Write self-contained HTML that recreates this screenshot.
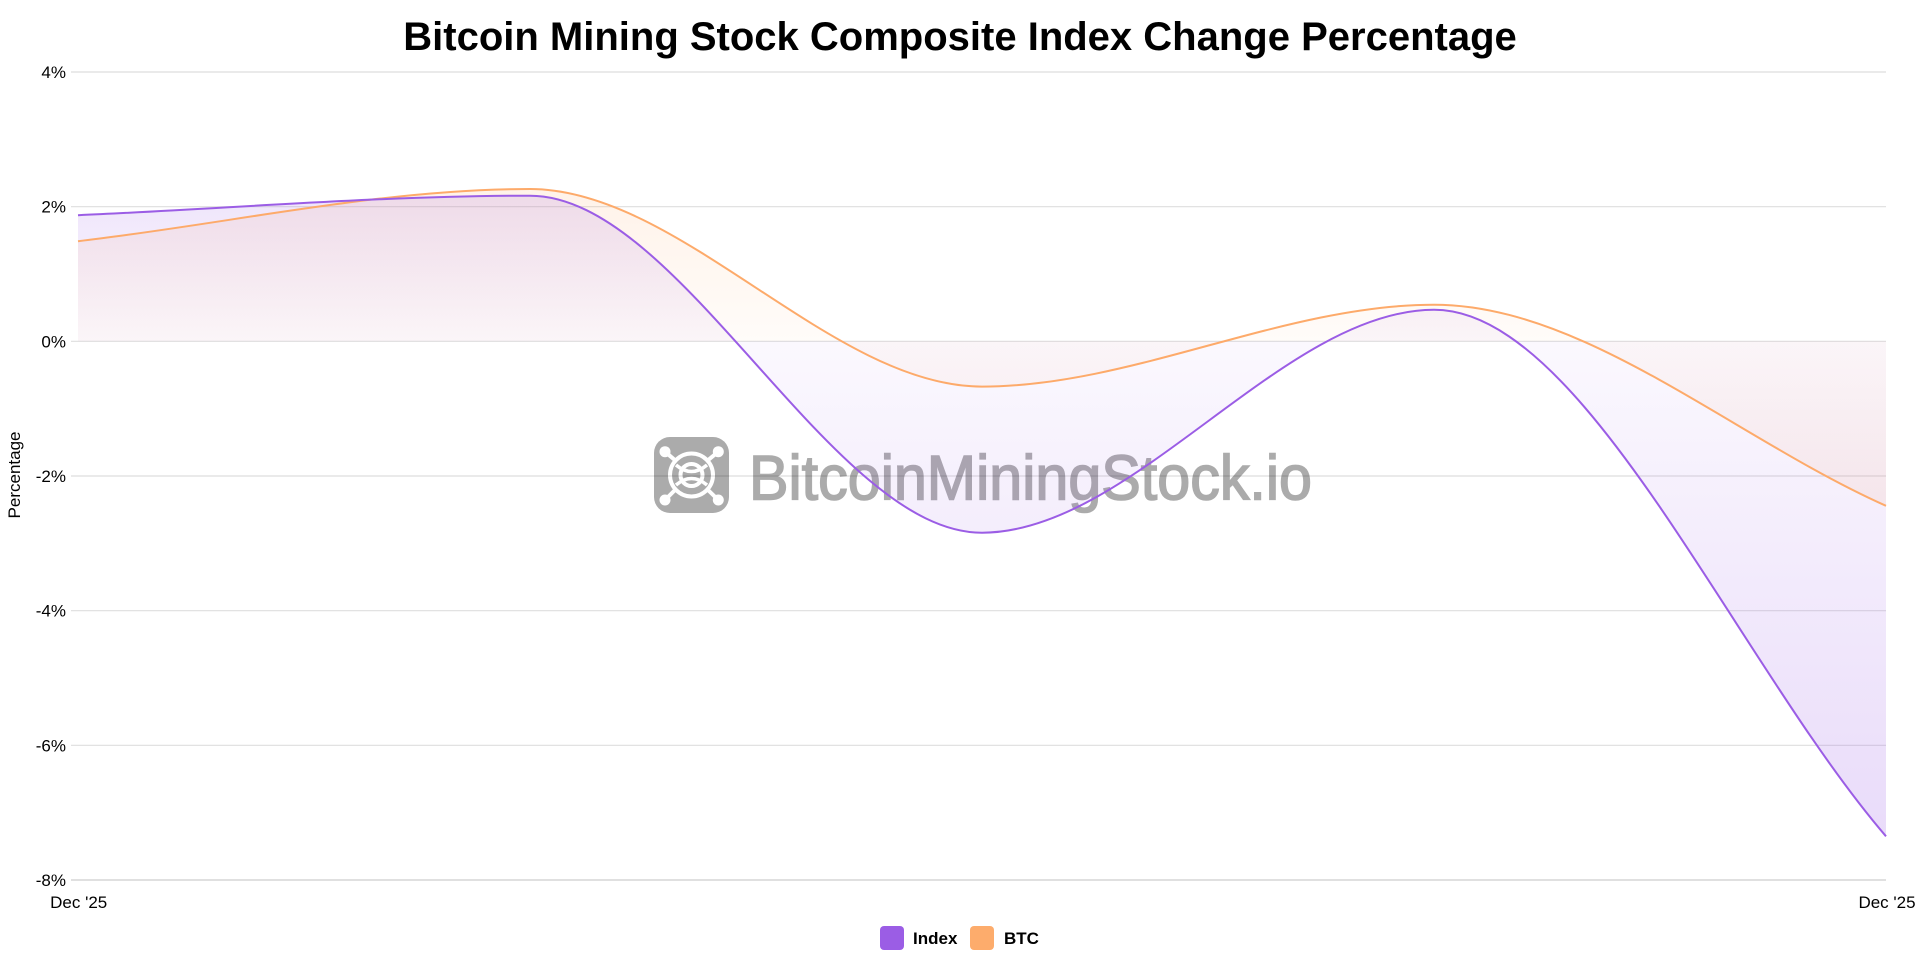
<!DOCTYPE html>
<html>
<head>
<meta charset="utf-8">
<style>
  html, body { margin: 0; padding: 0; background: #ffffff; }
  body { width: 1920px; height: 960px; overflow: hidden; }
  svg { display: block; }
  text { font-family: "Liberation Sans", Arial, sans-serif; }
</style>
</head>
<body>
<svg width="1920" height="960" viewBox="0 0 1920 960" xmlns="http://www.w3.org/2000/svg">
  <defs>
    <linearGradient id="gIdx" gradientUnits="userSpaceOnUse" x1="0" y1="195.7" x2="0" y2="836.3">
      <stop offset="0" stop-color="#9b5de5" stop-opacity="0.16"/>
      <stop offset="0.227" stop-color="#9b5de5" stop-opacity="0.04"/>
      <stop offset="1" stop-color="#9b5de5" stop-opacity="0.22"/>
    </linearGradient>
    <linearGradient id="gBtc" gradientUnits="userSpaceOnUse" x1="0" y1="189" x2="0" y2="505.8">
      <stop offset="0" stop-color="#fdac6c" stop-opacity="0.15"/>
      <stop offset="0.481" stop-color="#fdac6c" stop-opacity="0.04"/>
      <stop offset="1" stop-color="#fdac6c" stop-opacity="0.13"/>
    </linearGradient>
  </defs>

  <!-- Title -->
  <text x="960" y="50" text-anchor="middle" font-size="40" font-weight="bold" fill="#000">Bitcoin Mining Stock Composite Index Change Percentage</text>

  <!-- Watermark -->
  <g>
    <rect x="654" y="437" width="75" height="76" rx="16" ry="16" fill="#ababab"/>
    <g stroke="#ffffff" fill="none" stroke-width="4">
      <circle cx="691.5" cy="475" r="21.5"/>
      <circle cx="691.5" cy="475" r="11"/>
      <line x1="665" y1="451.7" x2="676" y2="461"/>
      <line x1="718.3" y1="451.7" x2="707" y2="461"/>
      <line x1="665" y1="500" x2="676" y2="489"/>
      <line x1="718.3" y1="500" x2="707" y2="489"/>
      <path d="M676 465 Q691.5 478 707 465" stroke-width="3.5"/>
      <path d="M676 485 Q691.5 472 707 485" stroke-width="3.5"/>
    </g>
    <g fill="#ffffff">
      <circle cx="665" cy="451.7" r="5.5"/>
      <circle cx="718.3" cy="451.7" r="5.5"/>
      <circle cx="665" cy="500" r="5.5"/>
      <circle cx="718.3" cy="500" r="5.5"/>
    </g>
    <text x="749" y="499.3" font-size="63" fill="#ababab" stroke="#ababab" stroke-width="1.6" textLength="563" lengthAdjust="spacingAndGlyphs">BitcoinMiningStock.io</text>
  </g>

  <!-- Gridlines -->
  <g stroke="rgba(0,0,0,0.13)" stroke-width="1.2">
    <line x1="71" y1="72" x2="1886" y2="72"/>
    <line x1="71" y1="206.7" x2="1886" y2="206.7"/>
    <line x1="71" y1="341.3" x2="1886" y2="341.3"/>
    <line x1="71" y1="476" x2="1886" y2="476"/>
    <line x1="71" y1="610.7" x2="1886" y2="610.7"/>
    <line x1="71" y1="745.3" x2="1886" y2="745.3"/>
    <line x1="71" y1="880" x2="1886" y2="880" stroke="rgba(0,0,0,0.2)"/>
  </g>

  <!-- Y tick labels -->
  <g font-size="17" fill="#000" text-anchor="end">
    <text x="66" y="78">4%</text>
    <text x="66" y="212.7">2%</text>
    <text x="66" y="347.3">0%</text>
    <text x="66" y="482">-2%</text>
    <text x="66" y="616.7">-4%</text>
    <text x="66" y="751.3">-6%</text>
    <text x="66" y="886">-8%</text>
  </g>

  <!-- Y axis title -->
  <text transform="translate(20,475) rotate(-90)" text-anchor="middle" font-size="17" fill="#000">Percentage</text>

  <!-- X tick labels -->
  <g font-size="17" fill="#000" text-anchor="middle">
    <text x="78.7" y="908">Dec '25</text>
    <text x="1887" y="908">Dec '25</text>
  </g>

  <!-- Areas -->
  <path fill="url(#gBtc)" d="M78,241.2 C228.67,223.8 379.33,189 530,189 C680.67,189 831.33,386.6 982,386.6 C1132.67,386.6 1283.33,304.7 1434,304.7 C1584.67,304.7 1735.33,438.8 1886,505.8 L1886,341.3 L78,341.3 Z"/>
  <path fill="url(#gIdx)" d="M78,215.2 C228.67,208.7 379.33,195.7 530,195.7 C680.67,195.7 831.33,532.7 982,532.7 C1132.67,532.7 1283.33,309.8 1434,309.8 C1584.67,309.8 1735.33,660.8 1886,836.3 L1886,341.3 L78,341.3 Z"/>

  <!-- Lines -->
  <path fill="none" stroke="#fdaa6a" stroke-width="2" d="M78,241.2 C228.67,223.8 379.33,189 530,189 C680.67,189 831.33,386.6 982,386.6 C1132.67,386.6 1283.33,304.7 1434,304.7 C1584.67,304.7 1735.33,438.8 1886,505.8"/>
  <path fill="none" stroke="#9b5de5" stroke-width="2" d="M78,215.2 C228.67,208.7 379.33,195.7 530,195.7 C680.67,195.7 831.33,532.7 982,532.7 C1132.67,532.7 1283.33,309.8 1434,309.8 C1584.67,309.8 1735.33,660.8 1886,836.3"/>

  <!-- Legend -->
  <rect x="880" y="926" width="24" height="24" rx="4" ry="4" fill="#9b5de5"/>
  <text x="913" y="944" font-size="17" font-weight="bold" fill="#000">Index</text>
  <rect x="970" y="926" width="24" height="24" rx="4" ry="4" fill="#fdac6c"/>
  <text x="1004" y="944" font-size="17" font-weight="bold" fill="#000">BTC</text>
</svg>
</body>
</html>
